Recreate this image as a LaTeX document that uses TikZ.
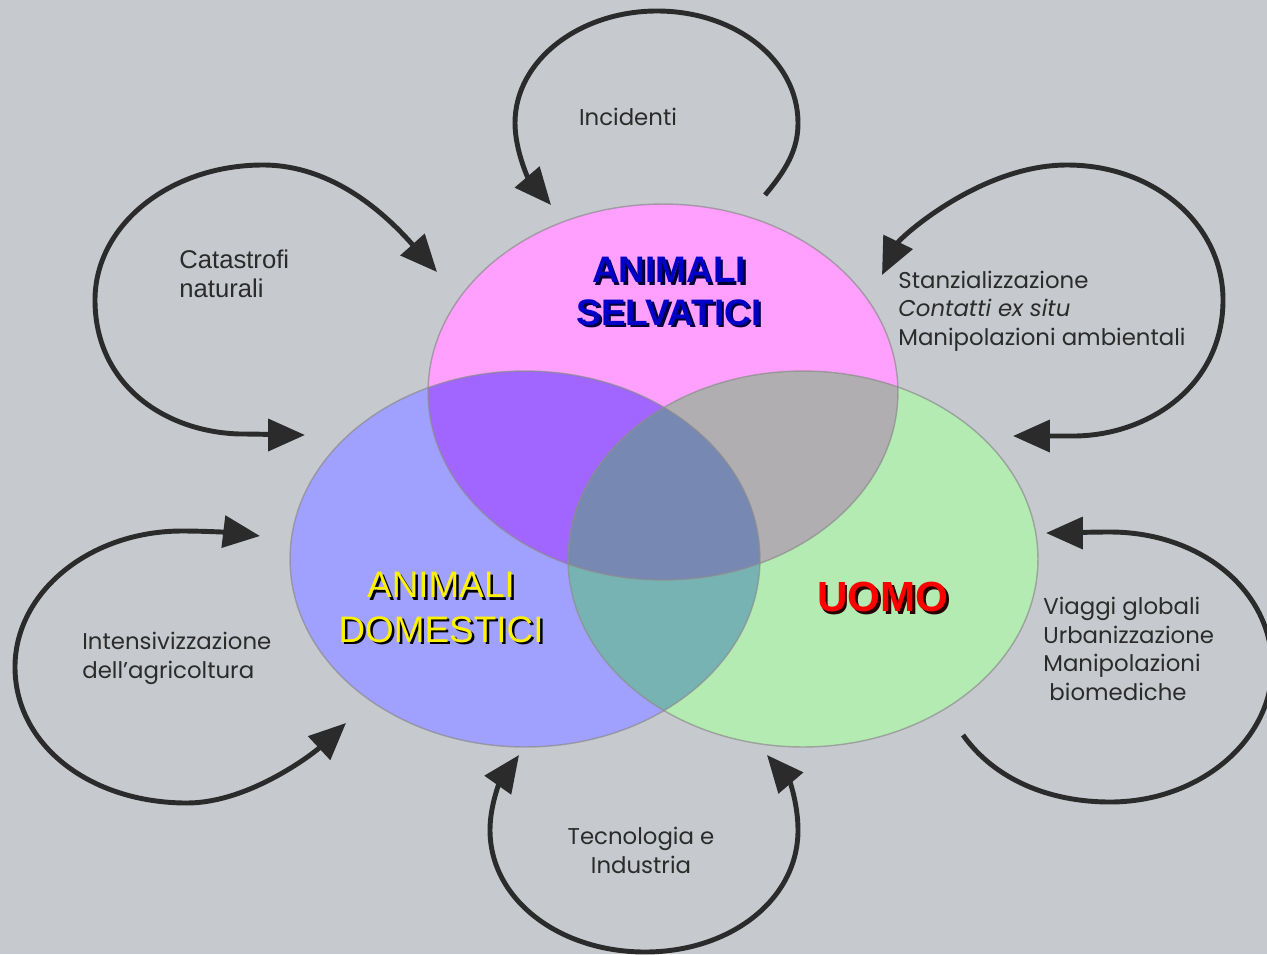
\documentclass[tikz,border=0pt]{standalone}
\usepackage{fontspec}
\setmainfont{Liberation Sans}
\newfontfamily\gothic{Poppins}
\usetikzlibrary{arrows.meta}
\definecolor{bggray}{HTML}{C6C9CD}
\definecolor{wildpink}{HTML}{FFA0FF}
\definecolor{domblue}{HTML}{A0A0FF}
\definecolor{mangreen}{HTML}{B3EBB3}
\definecolor{wilddom}{HTML}{A066FF}
\definecolor{wildman}{HTML}{B0AEB0}
\definecolor{domman}{HTML}{77B3B3}
\definecolor{allthree}{HTML}{7789B3}
\definecolor{loopink}{HTML}{2B2B2B}
\definecolor{selvblue}{HTML}{0000C8}
\tikzset{
  >={Triangle[length=21pt,width=18pt]},
  cycle/.style={draw=loopink, line width=2.8pt},
  rim/.style={draw=black!45, line width=0.8pt, opacity=0.7},
  smalltxt/.style={inner sep=0pt, text=loopink, font=\gothic\fontsize{13}{16.2}\selectfont},
  bigtxt/.style={inner sep=0pt, align=center}
}

\begin{document}
\begin{tikzpicture}[x=0.02cm,y=-0.02cm]
\useasboundingbox (0,0) rectangle (1267,954);
\fill[bggray] (0,0) rectangle (1267,954);
\clip (0,0) rectangle (1267,954);

% the three sets
\coordinate (cw) at (663,392);
\coordinate (cd) at (525,559);
\coordinate (cu) at (803,559);
\fill[wildpink] (cw) ellipse [x radius=4.7cm, y radius=3.76cm];
\fill[domblue] (cd) ellipse [x radius=4.7cm, y radius=3.76cm];
\fill[mangreen] (cu) ellipse [x radius=4.7cm, y radius=3.76cm];
\begin{scope}
\clip (cd) ellipse [x radius=4.7cm, y radius=3.76cm];
\fill[domman] (cu) ellipse [x radius=4.7cm, y radius=3.76cm];
\end{scope}
\begin{scope}
\clip (cw) ellipse [x radius=4.7cm, y radius=3.76cm];
\fill[wilddom] (cd) ellipse [x radius=4.7cm, y radius=3.76cm];
\fill[wildman] (cu) ellipse [x radius=4.7cm, y radius=3.76cm];
\clip (cd) ellipse [x radius=4.7cm, y radius=3.76cm];
\fill[allthree] (cu) ellipse [x radius=4.7cm, y radius=3.76cm];
\end{scope}
\draw[rim] (cw) ellipse [x radius=4.7cm, y radius=3.76cm];
\draw[rim] (cd) ellipse [x radius=4.7cm, y radius=3.76cm];
\draw[rim] (cu) ellipse [x radius=4.7cm, y radius=3.76cm];

% set names
\node[bigtxt, text=black!80!blue, font=\bfseries\fontsize{21}{24.4}\selectfont] (wildsh) at (671.5,294) {ANIMALI\\SELVATICI};
\node[bigtxt, text=selvblue, font=\bfseries\fontsize{21}{24.4}\selectfont] (wild) at (669,291.5) {ANIMALI\\SELVATICI};
\node[bigtxt, text=black, font=\fontsize{21}{25.5}\selectfont] (domsh) at (443.5,610) {ANIMALI\\DOMESTICI};
\node[bigtxt, text=yellow, font=\fontsize{21}{25.5}\selectfont] (dom) at (441,607.5) {ANIMALI\\DOMESTICI};
\node[bigtxt, text=black!85!red, font=\bfseries\fontsize{24}{28}\selectfont] (uomosh) at (885.5,599.5) {UOMO};
\node[bigtxt, text=red, font=\bfseries\fontsize{24}{28}\selectfont] (uomo) at (883,597) {UOMO};

% loop labels
\node[smalltxt, anchor=west, align=left, font=\fontsize{14.6}{16.4}\selectfont] (catastrofi) at (179,274) {Catastrofi\\naturali};
\node[smalltxt] (incidenti) at (628,117) {Incidenti};
\node[smalltxt, anchor=west, align=left] (stanz) at (898,311) {Stanzializzazione\\\textit{Contatti ex situ}\\Manipolazioni ambientali};
\node[smalltxt, anchor=west, align=left] (viaggi) at (1043,649) {Viaggi globali\\Urbanizzazione\\Manipolazioni\\\ biomediche};
\node[smalltxt, anchor=west, align=left] (intens) at (82,658.5) {Intensivizzazione\\dell’agricoltura};
\node[smalltxt, align=center] (tecno) at (641,850.5) {Tecnologia e\\Industria};

% loop ends
\coordinate (catin) at (437,272);
\coordinate (catout) at (305,435);
\coordinate (incfrom) at (765,195);
\coordinate (incto) at (551,205);
\coordinate (stain) at (882,275);
\coordinate (staout) at (1013,436);
\coordinate (viafrom) at (963,735);
\coordinate (viato) at (1046,533);
\coordinate (tecl) at (519,755);
\coordinate (tecr) at (767,755);
\coordinate (intin) at (260,536);
\coordinate (intout) at (346,723);

\draw[cycle,<->] (catin) .. controls (395,225) and (340,165) .. (263,165) .. controls (170,165) and (95,225) .. (95,300) .. controls (95,385) and (165,432) .. (240,434) .. controls (265,434) and (285,435) .. (catout);
\draw[cycle,->] (incfrom) .. controls (786,170) and (798,150) .. (798,123) .. controls (798,60) and (735,11) .. (657,11) .. controls (580,11) and (515,60) .. (515,123) .. controls (515,150) and (528,178) .. (incto);
\draw[cycle,<->] (stain) .. controls (900,238) and (980,165) .. (1067,165) .. controls (1155,165) and (1223,225) .. (1223,300) .. controls (1223,385) and (1150,435) .. (1075,436) .. controls (1050,436) and (1030,436) .. (staout);
\draw[cycle,->] (viafrom) .. controls (995,780) and (1050,802) .. (1110,802) .. controls (1200,802) and (1272,740) .. (1272,667) .. controls (1272,590) and (1200,532) .. (1110,532) .. controls (1085,532) and (1065,533) .. (viato);
\draw[cycle,<->] (tecl) .. controls (500,782) and (490,805) .. (490,830) .. controls (490,900) and (560,952) .. (645,952) .. controls (730,952) and (798,900) .. (798,830) .. controls (798,805) and (790,782) .. (tecr);
\draw[cycle,<->] (intin) .. controls (235,533) and (210,531) .. (182,531) .. controls (90,531) and (15,592) .. (15,667) .. controls (15,745) and (90,803) .. (187,803) .. controls (250,803) and (315,752) .. (intout);
\end{tikzpicture}
\end{document}
